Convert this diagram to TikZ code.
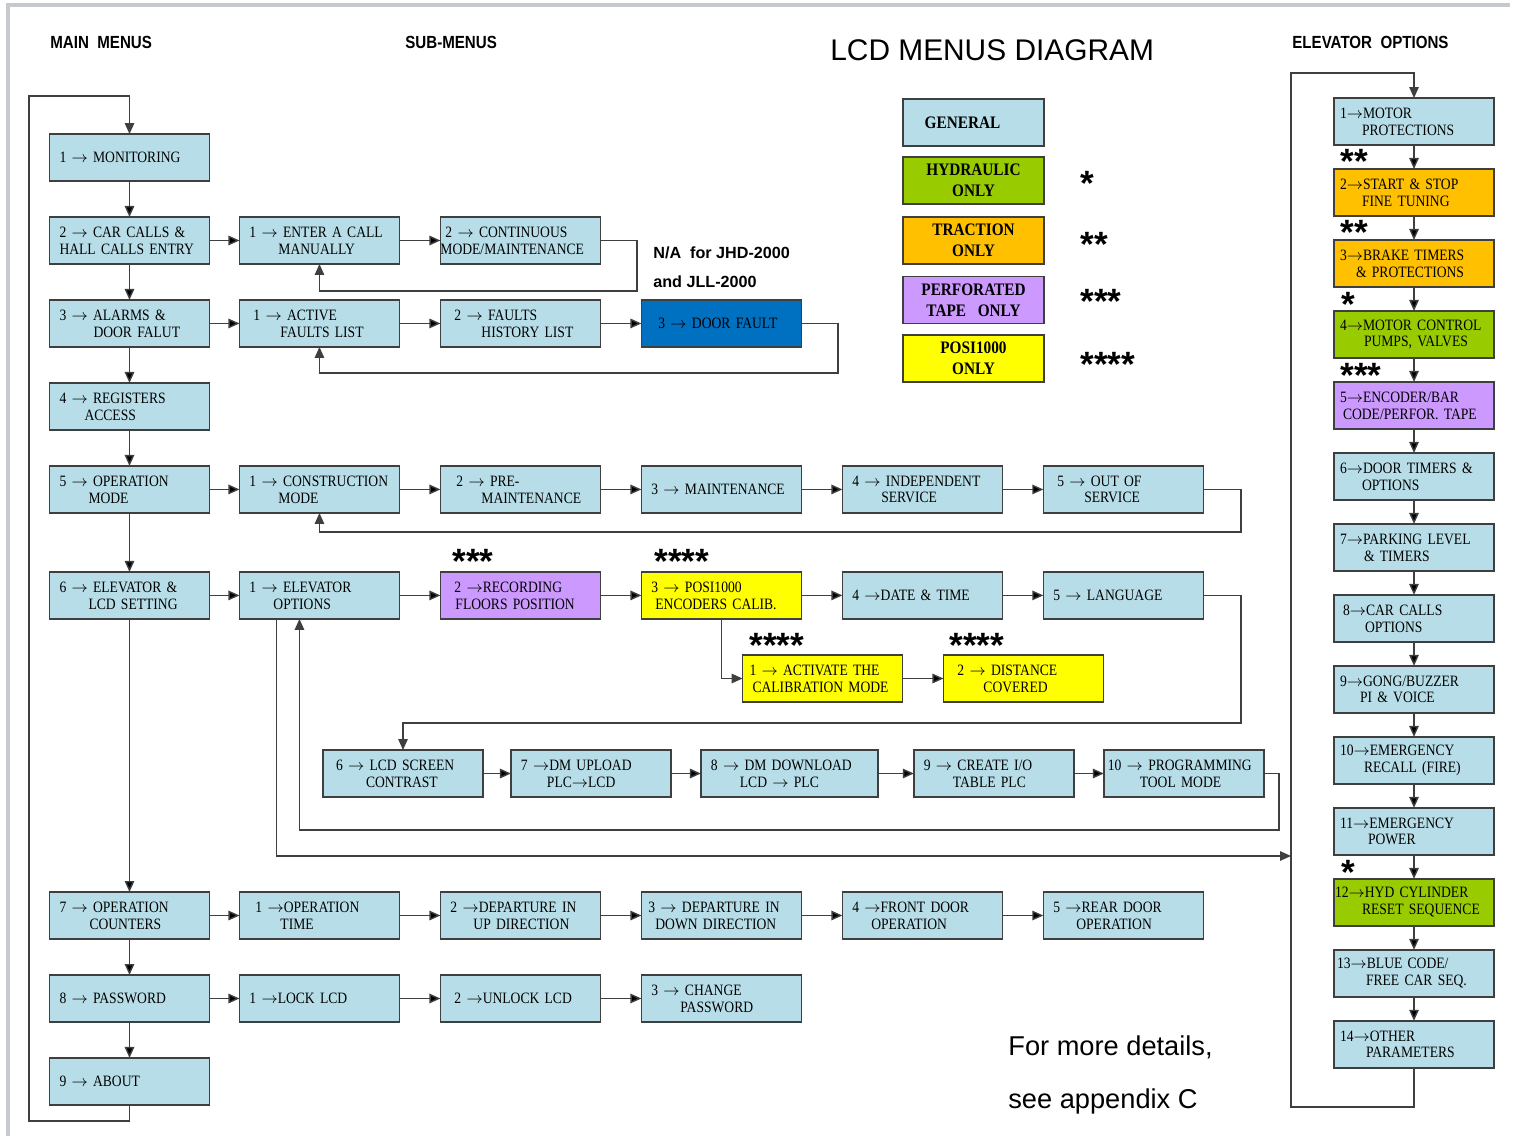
\documentclass[tikz,border=0pt]{standalone}
\usepackage{fontspec}
\setmainfont{Liberation Serif}
\newfontfamily\boxfont[FakeStretch=0.86]{Liberation Serif}
\newfontfamily\legfont[FakeStretch=0.87]{Liberation Serif}
\newfontfamily\headfont[FakeStretch=0.86]{Liberation Sans}
\newfontfamily\plainsans{Liberation Sans}
\usetikzlibrary{positioning,arrows.meta}

\definecolor{genblue}{HTML}{B7DEE8}
\definecolor{hydgreen}{HTML}{99CC00}
\definecolor{tracorange}{HTML}{FFC000}
\definecolor{perfviolet}{HTML}{CC99FF}
\definecolor{posiyellow}{HTML}{FFFF00}
\definecolor{doorblue}{HTML}{0070C0}
\definecolor{edgegray}{HTML}{3F3F3F}
\definecolor{framegray}{HTML}{C6CACE}

\newcommand{\nxt}[1][0.58cm]{\\\hspace*{#1}}
\newcommand{\rarr}{\ensuremath{\rightarrow}}
\newcommand{\starmark}[1]{\raisebox{-6.2pt}{#1}}

\begin{document}
\begin{tikzpicture}[x=0.02cm, y=-0.02cm,
		menubox/.style={rectangle, draw=edgegray, line width=0.9pt, fill=genblue, outer sep=0pt, text width=3.12cm, inner xsep=0.04cm, inner ysep=1pt, minimum height=0.94cm, align=left, font=\boxfont\fontsize{9}{9.6}\selectfont, execute at begin node={\leftskip=0.16cm\hyphenpenalty=10000}},
		optbox/.style={menubox, execute at begin node={\leftskip=0.08cm}},
		legbox/.style={rectangle, draw=edgegray, line width=0.9pt, outer sep=0pt, text width=2.62cm, inner xsep=0.1cm, minimum height=0.94cm, align=center, font=\legfont\bfseries\fontsize{10}{11.9}\selectfont},
		heading/.style={anchor=base west, inner sep=0pt, font=\headfont\bfseries\fontsize{10}{12}\selectfont},
		stars/.style={anchor=west, inner sep=0pt, text height=6pt, text depth=0pt, font=\plainsans\bfseries\fontsize{20}{20}\selectfont},
		flow/.style={draw=edgegray, line width=0.8pt, -{Triangle[length=0.22cm,width=0.19cm]}},
		node distance=0.82cm
		]
		\useasboundingbox (0,0) rectangle (1518,1136);
		\draw[framegray, line width=0.08cm] (8,1136) -- (8,5) -- (1510,5);
		
		% Titles
		\node[heading] (hmain) at (50,48) {MAIN\ \ MENUS};
		\node[heading] (hsub) at (405,48) {SUB-MENUS};
		\node[heading] (hopt) at (1292,48) {ELEVATOR\ \ OPTIONS};
		\node[anchor=base west, inner sep=0pt, font=\plainsans\fontsize{17}{20}\selectfont] (title) at (830,60) {LCD MENUS DIAGRAM};
		\node[anchor=base west, inner sep=0pt, font=\plainsans\bfseries\fontsize{9.2}{11}\selectfont] (na1) at (653,258) {N/A\ \ for JHD-2000};
		\node[anchor=base west, inner sep=0pt, font=\plainsans\bfseries\fontsize{9.2}{11}\selectfont] (na2) at (653,287) {and JLL-2000};
		\node[anchor=base west, inner sep=0pt, font=\plainsans\fontsize{15.5}{18}\selectfont] (more1) at (1008,1055) {For more details,};
		\node[anchor=base west, inner sep=0pt, font=\plainsans\fontsize{15.5}{18}\selectfont] (more2) at (1008,1108) {see appendix C};
		
		% Legend
		\node[legbox, fill=genblue] (lgen) at (973.5,122.5) {\hspace*{-0.44cm}GENERAL};
		\node[legbox, fill=hydgreen] (lhyd) at (973.5,180.5) {HYDRAULIC\\ONLY};
		\node[legbox, fill=tracorange] (ltrac) at (973.5,240.5) {TRACTION\\ONLY};
		\node[legbox, fill=perfviolet] (lperf) at (973.5,300) {PERFORATED\\TAPE\ \ ONLY};
		\node[legbox, fill=posiyellow] (lposi) at (973.5,358.5) {POSI1000\\ONLY};
		\node[stars] (s1) at (1080,179) {\starmark{*}};
		\node[stars] (s2) at (1080,240) {\starmark{**}};
		\node[stars] (s3) at (1080,297.5) {\starmark{***}};
		\node[stars] (s4) at (1080,360) {\starmark{****}};
		
		% Main menus
		\node[menubox] (m1) at (129.5,157.5) {1 \rarr{} MONITORING};
		\node[menubox, below=0.72cm of m1] (m2) {2 \rarr{} CAR CALLS \&\nxt[0cm]HALL CALLS ENTRY};
		\node[menubox, below=0.72cm of m2] (m3) {3 \rarr{} ALARMS \&\nxt[0.68cm]DOOR FALUT};
		\node[menubox, below=0.72cm of m3] (m4) {4 \rarr{} REGISTERS\nxt[0.5cm]ACCESS};
		\node[menubox, below=0.72cm of m4] (m5) {5 \rarr{} OPERATION\nxt MODE};
		\node[menubox, below=1.18cm of m5] (m6) {6 \rarr{} ELEVATOR \&\nxt LCD SETTING};
		\node[menubox] (m7) at (129.5,915.5) {7 \rarr{} OPERATION\nxt[0.6cm]COUNTERS};
		\node[menubox, below=0.72cm of m7] (m8) {8 \rarr{} PASSWORD};
		\node[menubox, below=0.72cm of m8] (m9) {9 \rarr{} ABOUT};
		
		% Sub-menus
		\node[menubox, right=0.6cm of m2] (enter) {1 \rarr{} ENTER A CALL\nxt MANUALLY};
		\node[menubox, right=of enter] (contmode) {\hspace*{-0.1cm}2 \rarr{} CONTINUOUS\nxt[-0.2cm]MODE/MAINTENANCE};
		
		\node[menubox, right=0.6cm of m3] (activef) {\hspace*{0.08cm}1 \rarr{} ACTIVE\nxt[0.62cm]FAULTS LIST};
		\node[menubox, right=of activef] (faulthist) {\hspace*{0.08cm}2 \rarr{} FAULTS\nxt[0.62cm]HISTORY LIST};
		\node[menubox, right=of faulthist, fill=doorblue] (doorfault) {\hspace*{0.14cm}3 \rarr{} DOOR FAULT};
		
		\node[menubox, right=0.6cm of m5] (constr) {1 \rarr{} CONSTRUCTION\nxt MODE};
		\node[menubox, right=of constr] (premaint) {\hspace*{0.12cm}2 \rarr{} PRE-\nxt[0.62cm]MAINTENANCE};
		\node[menubox, right=of premaint] (maint) {3 \rarr{} MAINTENANCE};
		\node[menubox, right=of maint] (indep) {4 \rarr{} INDEPENDENT\nxt SERVICE};
		\node[menubox, right=of indep] (outserv) {\hspace*{0.08cm}5 \rarr{} OUT OF\nxt[0.62cm]SERVICE};
		
		\node[menubox, right=0.6cm of m6] (elevopt) {1 \rarr{} ELEVATOR\nxt[0.48cm]OPTIONS};
		\node[menubox, right=of elevopt, fill=perfviolet] (recfloors) {\hspace*{0.08cm}2 \rarr{}RECORDING\nxt[0.1cm]FLOORS POSITION};
		\node[menubox, right=of recfloors, fill=posiyellow] (posical) {3 \rarr{} POSI1000\nxt[0.08cm]ENCODERS CALIB.};
		\node[menubox, right=of posical] (datetime) {4 \rarr{}DATE \& TIME};
		\node[menubox, right=of datetime] (language) {5 \rarr{} LANGUAGE};
		\node[menubox, fill=posiyellow] (activcal) at (822.5,678.5) {\hspace*{-0.06cm}1 \rarr{} ACTIVATE THE\nxt[0cm]CALIBRATION MODE};
		\node[menubox, right=of activcal, fill=posiyellow] (distcov) {\hspace*{0.08cm}2 \rarr{} DISTANCE\nxt[0.6cm]COVERED};
		\node[stars] (s5) at (452,557.5) {\starmark{***}};
		\node[stars] (s6) at (654,557.5) {\starmark{****}};
		\node[stars] (s7) at (749,641) {\starmark{****}};
		\node[stars] (s8) at (949,641) {\starmark{****}};
		
		\node[menubox] (lcdcontrast) at (403,773.5) {\hspace*{0.06cm}6 \rarr{} LCD SCREEN\nxt[0.66cm]CONTRAST};
		\node[menubox, right=0.56cm of lcdcontrast] (dmup) {7 \rarr{}DM UPLOAD\nxt[0.52cm]PLC\rarr{}LCD};
		\node[menubox, text width=3.46cm, right=0.6cm of dmup] (dmdown) {8 \rarr{} DM DOWNLOAD\nxt LCD \rarr{} PLC};
		\node[menubox, right=0.72cm of dmdown] (iotable) {9 \rarr{} CREATE I/O\nxt TABLE PLC};
		\node[menubox, right=0.6cm of iotable] (progtool) {\hspace*{-0.12cm}10 \rarr{} PROGRAMMING\nxt[0.52cm]TOOL MODE};
		
		\node[menubox, right=0.6cm of m7] (optime) {\hspace*{0.12cm}1 \rarr{}OPERATION\nxt[0.62cm]TIME};
		\node[menubox, right=of optime] (depup) {2 \rarr{}DEPARTURE IN\nxt[0.46cm]UP DIRECTION};
		\node[menubox, right=of depup] (depdown) {\hspace*{-0.06cm}3 \rarr{} DEPARTURE IN\nxt[0.08cm]DOWN DIRECTION};
		\node[menubox, right=of depdown] (frontdoor) {4 \rarr{}FRONT DOOR\nxt[0.38cm]OPERATION};
		\node[menubox, right=of frontdoor] (reardoor) {5 \rarr{}REAR DOOR\nxt[0.46cm]OPERATION};
		
		\node[menubox, right=0.6cm of m8] (locklcd) {1 \rarr{}LOCK LCD};
		\node[menubox, right=of locklcd] (unlocklcd) {\hspace*{0.08cm}2 \rarr{}UNLOCK LCD};
		\node[menubox, right=of unlocklcd] (chgpass) {3 \rarr{} CHANGE\nxt PASSWORD};
		
		% Elevator options
		\node[optbox] (o1) at (1414,121.5) {1\rarr{}MOTOR\nxt[0.44cm]PROTECTIONS};
		\node[optbox, below=0.48cm of o1, fill=tracorange] (o2) {2\rarr{}START \& STOP\nxt[0.44cm]FINE TUNING};
		\node[optbox, below=0.48cm of o2, fill=tracorange] (o3) {3\rarr{}BRAKE TIMERS\nxt[0.32cm]\& PROTECTIONS};
		\node[optbox, below=0.48cm of o3, fill=hydgreen] (o4) {4\rarr{}MOTOR CONTROL\nxt[0.48cm]PUMPS, VALVES};
		\node[optbox, below=0.48cm of o4, fill=perfviolet] (o5) {5\rarr{}ENCODER/BAR\nxt[0.06cm]CODE/PERFOR. TAPE};
		\node[optbox, below=0.48cm of o5] (o6) {6\rarr{}DOOR TIMERS \&\nxt[0.44cm]OPTIONS};
		\node[optbox, below=0.48cm of o6] (o7) {7\rarr{}PARKING LEVEL\nxt[0.48cm]\& TIMERS};
		\node[optbox, below=0.48cm of o7] (o8) {\hspace*{0.06cm}8\rarr{}CAR CALLS\nxt[0.5cm]OPTIONS};
		\node[optbox, below=0.48cm of o8] (o9) {9\rarr{}GONG/BUZZER\nxt[0.4cm]PI \& VOICE};
		\node[optbox, below=0.48cm of o9] (o10) {10\rarr{}EMERGENCY\nxt[0.48cm]RECALL (FIRE)};
		\node[optbox, below=0.48cm of o10] (o11) {11\rarr{}EMERGENCY\nxt[0.56cm]POWER};
		\node[optbox, below=0.48cm of o11, fill=hydgreen] (o12) {\hspace*{-0.1cm}12\rarr{}HYD CYLINDER\nxt[0.44cm]RESET SEQUENCE};
		\node[optbox, below=0.48cm of o12] (o13) {\hspace*{-0.06cm}13\rarr{}BLUE CODE/\nxt[0.52cm]FREE CAR SEQ.};
		\node[optbox, below=0.48cm of o13] (o14) {14\rarr{}OTHER\nxt[0.52cm]PARAMETERS};
		\node[stars] (s9) at (1340,157) {\starmark{**}};
		\node[stars] (s10) at (1340,228) {\starmark{**}};
		\node[stars] (s11) at (1341,300) {\starmark{*}};
		\node[stars] (s12) at (1340,371) {\starmark{***}};
		\node[stars] (s13) at (1341,868) {\starmark{*}};
		
		% Loop corners
		\coordinate (mtop) at (29,96);
		\coordinate (mbot) at (29,1121);
		\coordinate (c2) at (637,291);
		\coordinate (c3) at (838,373);
		\coordinate (c5) at (1241,532);
		\coordinate (c6) at (1241,723);
		\coordinate (c7) at (1279,830);
		\coordinate (rtop) at (1291,73);
		\coordinate (rbot) at (1291,1107);
		\coordinate (rin) at (1291,856);
		
		% Main Paths
		\path[flow] (m1) edge (m2);
		\path[flow] (m2) edge (m3);
		\path[flow] (m3) edge (m4);
		\path[flow] (m4) edge (m5);
		\path[flow] (m5) edge (m6);
		\path[flow] (m6) edge (m7);
		\path[flow] (m7) edge (m8);
		\path[flow] (m8) edge (m9);
		\draw[flow] (m9.south) |- (mbot) -- (mtop) -| (m1.north);
		
		% Sub-menu paths
		\path[flow] (m2) edge (enter);
		\path[flow] (enter) edge (contmode);
		\draw[flow] (contmode.east) -| (c2) -| (enter.south);
		
		\path[flow] (m3) edge (activef);
		\path[flow] (activef) edge (faulthist);
		\path[flow] (faulthist) edge (doorfault);
		\draw[flow] (doorfault.east) -| (c3) -| (activef.south);
		
		\path[flow] (m5) edge (constr);
		\path[flow] (constr) edge (premaint);
		\path[flow] (premaint) edge (maint);
		\path[flow] (maint) edge (indep);
		\path[flow] (indep) edge (outserv);
		\draw[flow] (outserv.east) -| (c5) -| (constr.south);
		
		\path[flow] (m6) edge (elevopt);
		\path[flow] (elevopt) edge (recfloors);
		\path[flow] (recfloors) edge (posical);
		\path[flow] (posical) edge (datetime);
		\path[flow] (datetime) edge (language);
		\draw[flow] (posical.south) |- (activcal.west);
		\path[flow] (activcal) edge (distcov);
		\draw[flow] (language.east) -| (c6) -| (lcdcontrast.north);
		
		\path[flow] (lcdcontrast) edge (dmup);
		\path[flow] (dmup) edge (dmdown);
		\path[flow] (dmdown) edge (iotable);
		\path[flow] (iotable) edge (progtool);
		\draw[flow] (progtool.east) -| (c7) -| ([xshift=-0.4cm]elevopt.south);
		\draw[flow] ([xshift=-0.86cm]elevopt.south) |- (rin);
		
		\path[flow] (m7) edge (optime);
		\path[flow] (optime) edge (depup);
		\path[flow] (depup) edge (depdown);
		\path[flow] (depdown) edge (frontdoor);
		\path[flow] (frontdoor) edge (reardoor);
		
		\path[flow] (m8) edge (locklcd);
		\path[flow] (locklcd) edge (unlocklcd);
		\path[flow] (unlocklcd) edge (chgpass);
		
		% Elevator options paths
		\path[flow] (o1) edge (o2);
		\path[flow] (o2) edge (o3);
		\path[flow] (o3) edge (o4);
		\path[flow] (o4) edge (o5);
		\path[flow] (o5) edge (o6);
		\path[flow] (o6) edge (o7);
		\path[flow] (o7) edge (o8);
		\path[flow] (o8) edge (o9);
		\path[flow] (o9) edge (o10);
		\path[flow] (o10) edge (o11);
		\path[flow] (o11) edge (o12);
		\path[flow] (o12) edge (o13);
		\path[flow] (o13) edge (o14);
		\draw[flow] (o14.south) |- (rbot) -- (rtop) -| (o1.north);
	\end{tikzpicture}
\end{document}
